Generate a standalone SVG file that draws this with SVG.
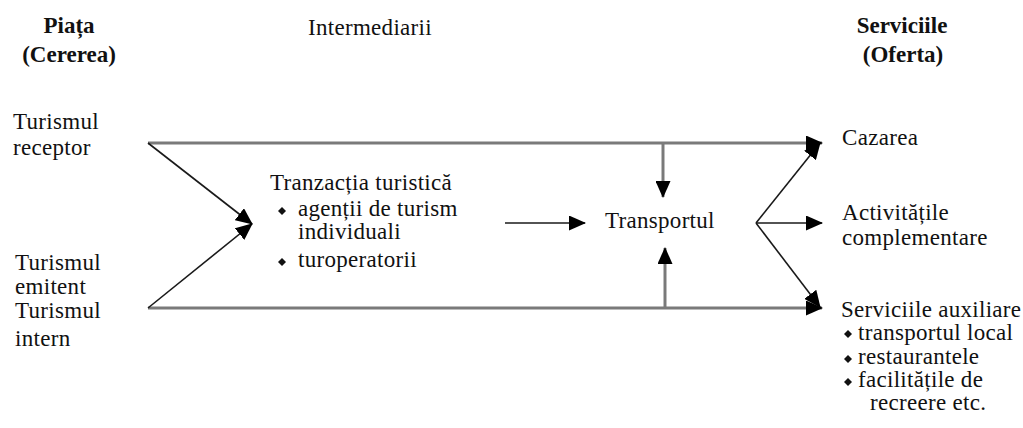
<svg xmlns="http://www.w3.org/2000/svg" width="1023" height="428" viewBox="0 0 1023 428">
<style>
text{font-family:"Liberation Serif","Times New Roman",serif;font-size:23px;letter-spacing:0.3px;fill:#111}
.h{font-weight:bold;text-anchor:middle;letter-spacing:0}
.g{stroke:#7a7a7a;stroke-width:3;fill:none}
.k{stroke:#1a1a1a;stroke-width:1.6;fill:none}
.b{fill:#111}
</style>
<defs>
<marker id="ah" markerUnits="userSpaceOnUse" markerWidth="17" markerHeight="15" refX="16" refY="7.5" orient="auto">
<path d="M0,0 L17,7.5 L0,15 Z" fill="#000"/>
</marker>
<path id="dm" d="M0,-4 L4,0 L0,4 L-4,0 Z"/>
</defs>
<rect width="1023" height="428" fill="#fff"/>
<g id="header-piata"><text class="h" x="69" y="33">Piața</text><text class="h" x="69" y="62">(Cererea)</text></g>
<g id="header-intermediarii"><text x="308" y="35">Intermediarii</text></g>
<g id="header-serviciile"><text class="h" x="902" y="33">Serviciile</text><text class="h" x="903" y="62">(Oferta)</text></g>
<g id="turism-receptor"><text x="13" y="129">Turismul</text><text x="13" y="155">receptor</text></g>
<g id="turism-emitent"><text x="15" y="270">Turismul</text><text x="15" y="294">emitent</text></g>
<g id="turism-intern"><text x="15" y="318">Turismul</text><text x="15" y="346">intern</text></g>
<g id="tranzactia">
<text x="270" y="190">Tranzacția turistică</text>
<use href="#dm" x="282" y="211" class="b"/>
<text x="298" y="216">agenții de turism</text>
<text x="298" y="239">individuali</text>
<use href="#dm" x="282" y="262" class="b"/>
<text x="298" y="267">turoperatorii</text>
</g>
<g id="transportul"><text x="605" y="228">Transportul</text></g>
<g id="cazarea"><text x="842" y="145">Cazarea</text></g>
<g id="activitatile"><text x="842" y="220">Activitățile</text><text x="842" y="245">complementare</text></g>
<g id="serviciile-auxiliare">
<text x="841" y="317">Serviciile auxiliare</text>
<use href="#dm" x="848" y="334" class="b"/><text x="858" y="340">transportul local</text>
<use href="#dm" x="848" y="359" class="b"/><text x="858" y="364">restaurantele</text>
<use href="#dm" x="848" y="382" class="b"/><text x="858" y="387">facilitățile de</text>
<text x="870" y="410">recreere etc.</text>
</g>
<g id="connectors">
<path class="g" d="M148,143 H822" marker-end="url(#ah)"/>
<path class="g" d="M148,308 H822" marker-end="url(#ah)"/>
<path class="k" d="M148,143 L252,224" marker-end="url(#ah)"/>
<path class="k" d="M148,308 L252,224" marker-end="url(#ah)"/>
<path class="g" d="M663,143 V197" marker-end="url(#ah)"/>
<path class="g" d="M665,308 V248" marker-end="url(#ah)"/>
<path class="k" d="M505,223 H585" marker-end="url(#ah)"/>
<path class="k" d="M756,223 L820,143" marker-end="url(#ah)"/>
<path class="k" d="M756,223 H822" marker-end="url(#ah)"/>
<path class="k" d="M756,223 L820,307" marker-end="url(#ah)"/>
</g>
</svg>
